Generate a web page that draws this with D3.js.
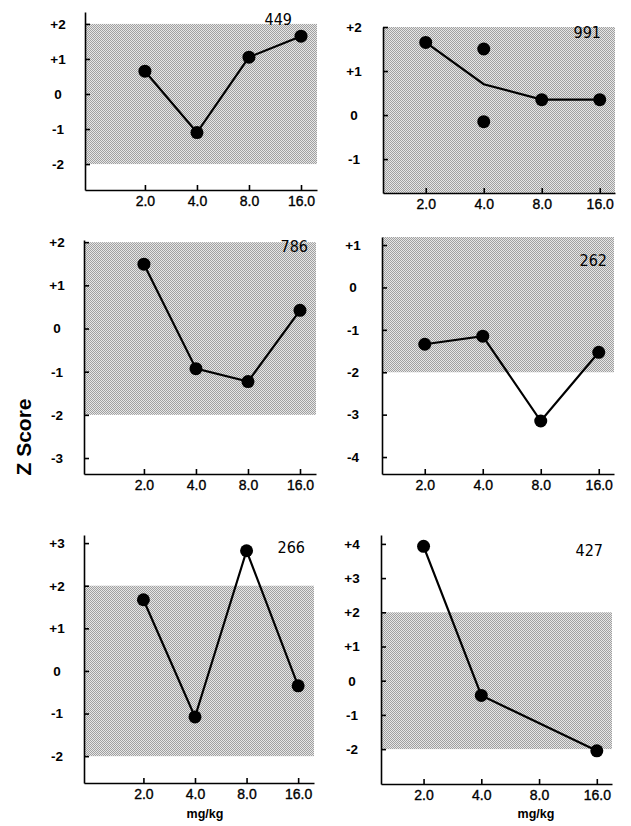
<!DOCTYPE html>
<html>
<head>
<meta charset="utf-8">
<script src="https://cdn.jsdelivr.net/npm/d3@7"></script>
<style>
  body { margin: 0; background: #fff; }
  svg { display: block; }
  .axis path, .axis line { stroke: #000; stroke-width: 1.6; }
  .axis text { font-family: "Liberation Sans", Arial, sans-serif; fill: #000; }
  .axis.y text { font-weight: bold; font-size: 13.5px; }
  .axis.x text { font-weight: normal; font-size: 14px; stroke: #000; stroke-width: 0.35px; }
</style>
</head>
<body>
<svg id="chart" width="631" height="826"></svg>
<script>
"use strict";

// Doses (mg/kg) and their tick labels
const doses = [2, 4, 8, 16];
const doseLabels = ["2.0", "4.0", "8.0", "16.0"];

// Subject numbers, one per panel
const subjects = ["449", "991", "786", "262", "266", "427"];

// Z scores
const z449 = [0.65, -1.1, 1.05, 1.65];
const z991Line = [1.65, 0.7, 0.35, 0.35];
const dose991Points = [2, 4, 4, 8, 16];
const z991Points = [1.65, 1.5, -0.15, 0.35, 0.35];
const z786 = [1.49, -0.93, -1.23, 0.42];
const z262 = [-1.34, -1.15, -3.15, -1.53];
const z266 = [1.67, -1.08, 2.82, -0.35];
const dose427 = [2, 4, 16];
const z427 = [3.93, -0.43, -2.05];

// Y tick values per panel
const yTicks449 = [2, 1, 0, -1, -2];
const yTicks991 = [2, 1, 0, -1];
const yTicks786 = [2, 1, 0, -1, -2, -3];
const yTicks262 = [1, 0, -1, -2, -3, -4];
const yTicks266 = [3, 2, 1, 0, -1, -2];
const yTicks427 = [4, 3, 2, 1, 0, -1, -2];

// Normal band
const bandLow = -2;
const bandHigh = 2;

const svg = d3.select("#chart");

// Halftone-ish fill for the +/-2 band (1px checker)
const pattern = svg.append("defs").append("pattern")
    .attr("id", "halftone")
    .attr("width", 2)
    .attr("height", 2)
    .attr("patternUnits", "userSpaceOnUse");
pattern.append("rect").attr("width", 2).attr("height", 2).attr("fill", "#e6e6e6");
pattern.append("rect").attr("x", 0).attr("y", 0).attr("width", 1).attr("height", 1).attr("fill", "#a0a0a0");
pattern.append("rect").attr("x", 1).attr("y", 1).attr("width", 1).attr("height", 1).attr("fill", "#a0a0a0");

const panels = [
  {id: subjects[0], left: 85, right: 317, top: 12, bottom: 190, yDom: [-2.74, 2.34], side: "L",
   yTicks: yTicks449, lineX: doses, lineY: z449, dotX: doses, dotY: z449, labelX: 292, labelY: 25},
  {id: subjects[1], left: 383, right: 615, top: 27, bottom: 193, yDom: [-1.77, 2.0], side: "R",
   yTicks: yTicks991, lineX: doses, lineY: z991Line, dotX: dose991Points, dotY: z991Points, labelX: 601, labelY: 38},
  {id: subjects[2], left: 84, right: 316, top: 240, bottom: 474, yDom: [-3.37, 2.05], side: "L",
   yTicks: yTicks786, lineX: doses, lineY: z786, dotX: doses, dotY: z786, labelX: 308, labelY: 252},
  {id: subjects[3], left: 382, right: 614, top: 237, bottom: 474, yDom: [-4.4, 1.19], side: "R",
   yTicks: yTicks262, lineX: doses, lineY: z262, dotX: doses, dotY: z262, labelX: 607, labelY: 266},
  {id: subjects[4], left: 84, right: 314, top: 535, bottom: 783, yDom: [-2.63, 3.19], side: "L",
   yTicks: yTicks266, lineX: doses, lineY: z266, dotX: doses, dotY: z266, labelX: 305, labelY: 553},
  {id: subjects[5], left: 381, right: 612, top: 535, bottom: 784, yDom: [-3.02, 4.26], side: "R",
   yTicks: yTicks427, lineX: dose427, lineY: z427, dotX: dose427, dotY: z427, labelX: 603, labelY: 556},
];

function zFormat(d) {
  if (d > 0) return "+" + d;
  if (d < 0) return "-" + Math.abs(d);
  return "0";
}

panels.forEach(p => {
  const x = d3.scaleLog().base(2)
      .domain(p.side == "L" ? [0.9, 19.8] : [1.2, 19.2])
      .range([p.left, p.right]);
  const y = d3.scaleLinear()
      .domain(p.yDom)
      .range([p.bottom, p.top]);

  const g = svg.append("g");

  // Band
  const bTop = y(Math.min(bandHigh, p.yDom[1]));
  const bBot = y(Math.max(bandLow, p.yDom[0]));
  g.append("rect")
      .attr("x", p.left)
      .attr("y", bTop)
      .attr("width", p.right - p.left)
      .attr("height", bBot - bTop)
      .attr("fill", "url(#halftone)");

  // Axes
  const yAxis = g.append("g")
      .attr("class", "axis y")
      .attr("transform", `translate(${p.left},0)`)
      .call(d3.axisLeft(y).tickValues(p.yTicks).tickFormat(zFormat)
              .tickSize(-5).tickSizeOuter(0).tickPadding(0));
  yAxis.selectAll("text")
      .attr("text-anchor", "middle")
      .attr("x", p.side == "L" ? -27 : -29);

  g.append("g")
      .attr("class", "axis x")
      .attr("transform", `translate(0,${p.bottom})`)
      .call(d3.axisBottom(x).tickValues(doses).tickFormat((d, i) => doseLabels[i])
              .tickSize(-5).tickSizeOuter(0).tickPadding(6));

  // Line
  const pts = p.lineX.map((d, i) => [d, p.lineY[i]]);
  g.append("path")
      .datum(pts)
      .attr("fill", "none")
      .attr("stroke", "#000")
      .attr("stroke-width", 2.2)
      .attr("d", d3.line().x(d => x(d[0])).y(d => y(d[1])));

  // Dots
  g.selectAll("circle")
      .data(p.dotX.map((d, i) => [d, p.dotY[i]]))
      .enter()
      .append("circle")
      .attr("cx", d => x(d[0]))
      .attr("cy", d => y(d[1]))
      .attr("r", 6.5)
      .attr("fill", "#000");

  // Subject number
  g.append("text")
      .attr("x", p.labelX)
      .attr("y", p.labelY)
      .attr("text-anchor", "end")
      .attr("font-family", "'DejaVu Sans Condensed', 'DejaVu Sans', sans-serif")
      .attr("font-size", 16)
      .text(p.id);
});

// Axis titles
[[205, 818], [536, 818]].forEach(([tx, ty]) => {
  svg.append("text")
      .attr("x", tx)
      .attr("y", ty)
      .attr("text-anchor", "middle")
      .attr("font-family", "'Liberation Sans', Arial, sans-serif")
      .attr("font-size", 12.5)
      .attr("font-weight", "bold")
      .text("mg/kg");
});

svg.append("text")
    .attr("transform", "translate(31,437) rotate(-90)")
    .attr("text-anchor", "middle")
    .attr("font-family", "'Liberation Sans', Arial, sans-serif")
    .attr("font-size", 21)
    .attr("font-weight", "bold")
    .text("Z Score");
</script>
</body>
</html>
